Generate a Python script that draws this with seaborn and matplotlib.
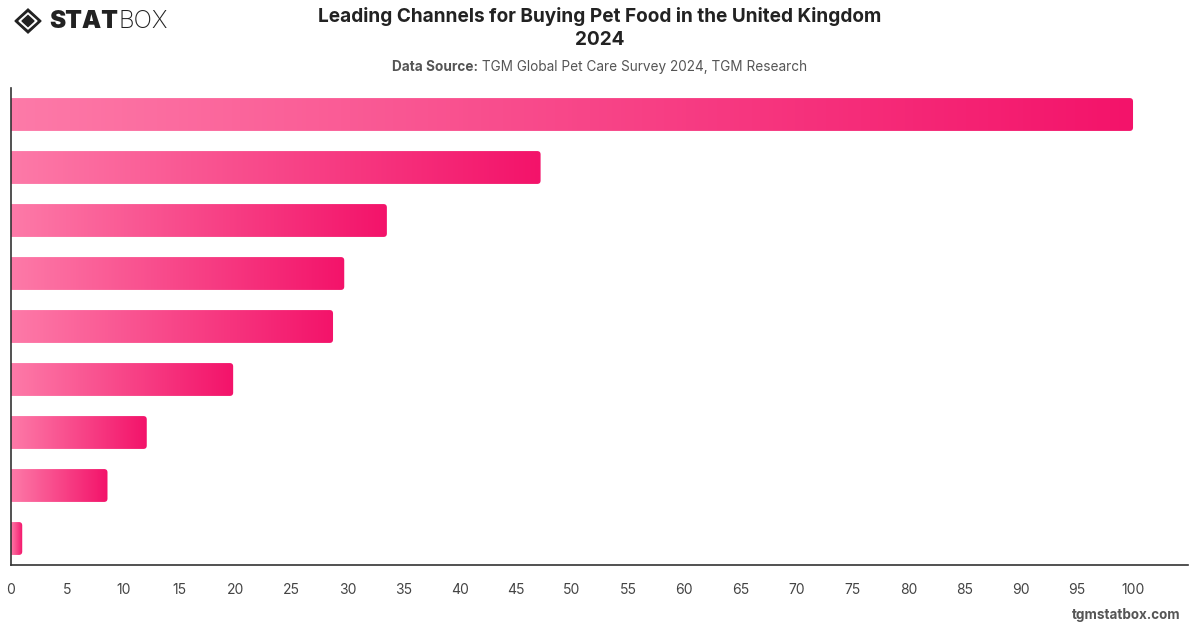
import numpy as np
import pandas as pd
import matplotlib.pyplot as plt
import seaborn as sns
from matplotlib.colors import LinearSegmentedColormap
from matplotlib.patches import FancyBboxPatch, Polygon

# Data (category names are not shown on the chart)
channels = ["Channel 1", "Channel 2", "Channel 3", "Channel 4", "Channel 5",
            "Channel 6", "Channel 7", "Channel 8", "Channel 9"]
values = [100, 47.2, 33.5, 29.7, 28.7, 19.8, 12.1, 8.6, 1.0]
xticks = list(range(0, 101, 5))

title = "Leading Channels for Buying Pet Food in the United Kingdom"
year = "2024"
source_label = "Data Source:"
source_text = " TGM Global Pet Care Survey 2024, TGM Research"
footer = "tgmstatbox.com"

sns.set_theme(style="white")
plt.rcParams['font.family'] = ['Inter', 'DejaVu Sans']

W, H = 1200, 628
XMAX = 104.9
fig, ax = plt.subplots(figsize=(W / 100, H / 100), dpi=100)
fig.subplots_adjust(left=11 / W, right=1188 / W, top=1 - 88 / H, bottom=1 - 565 / H)

df = pd.DataFrame({"channel": channels, "value": values})
sns.barplot(data=df, y="channel", x="value", orient="h", width=0.62,
            color="#f5196b", ax=ax)

# gradient fill per bar, rounded right corners
cmap = LinearSegmentedColormap.from_list("pink", ["#fd7aa8", "#f3136a"])
grad = np.linspace(0, 1, 256).reshape(1, -1)
x_px = (1188 - 11) / XMAX
y_px = (565 - 88) / len(channels)
for p in list(ax.patches):
    x0, y0, w, h = p.get_x(), p.get_y(), p.get_width(), p.get_height()
    p.set_visible(False)
    clip = FancyBboxPatch((x0 - 1, y0), w + 1, h,
                          boxstyle="round,pad=0,rounding_size=0.3",
                          mutation_aspect=x_px / y_px,
                          transform=ax.transData, facecolor="none", edgecolor="none")
    ax.add_patch(clip)
    im = ax.imshow(grad, extent=[x0, x0 + w, y0 + h, y0], aspect="auto",
                   cmap=cmap, interpolation="bicubic", zorder=2)
    im.set_clip_path(clip)

ax.set_xlim(0, XMAX)
ax.set_ylim(len(channels) - 0.5, -0.5)
ax.set_xticks(xticks)
ax.set_xticklabels([str(t) for t in xticks])
ax.set_yticks([])
ax.set_xlabel("")
ax.set_ylabel("")
ax.tick_params(axis="x", length=0, pad=13, labelsize=10, labelcolor="#444444")
for s in ["top", "right"]:
    ax.spines[s].set_visible(False)
for s in ["left", "bottom"]:
    ax.spines[s].set_color("#333333")
    ax.spines[s].set_linewidth(1.2)

# overlay in pixel coordinates for header / footer
ov = fig.add_axes([0, 0, 1, 1], zorder=-1)
ov.set_xlim(0, W)
ov.set_ylim(H, 0)
ov.axis("off")

ov.text(600, 17, title, ha="center", va="center", fontsize=13.7, weight="bold", color="#222222")
ov.text(600, 40, year, ha="center", va="center", fontsize=13.7, weight="bold", color="#222222")

# subtitle: bold label + normal text, centered together
renderer = fig.canvas.get_renderer()
t1 = ov.text(0, 67, source_label, ha="left", va="center", fontsize=9.8, weight="bold", color="#555555")
t2 = ov.text(0, 67, source_text, ha="left", va="center", fontsize=9.8, color="#555555")
w1 = t1.get_window_extent(renderer).width
w2 = t2.get_window_extent(renderer).width
start = 600 - (w1 + w2) / 2
t1.set_x(start)
t2.set_x(start + w1)

# logo
cx, cy = 28, 21
ov.add_patch(Polygon([[cx - 13, cy], [cx, cy - 12], [cx + 13, cy], [cx, cy + 12]], closed=True, color="#222222"))
ov.add_patch(Polygon([[cx - 9, cy], [cx, cy - 8], [cx + 9, cy], [cx, cy + 8]], closed=True, color="white"))
ov.add_patch(Polygon([[cx - 6, cy], [cx, cy - 5.5], [cx + 6, cy], [cx, cy + 5.5]], closed=True, color="#222222"))
s1 = ov.text(49, 22, "STAT", ha="left", va="center", fontsize=17.5, weight="black", color="#222222")
ws = s1.get_window_extent(renderer).width
ov.text(49 + ws + 1, 22, "BOX", ha="left", va="center", fontsize=17.5, weight="light", color="#222222")

ov.text(1180, 615, footer, ha="right", va="center", fontsize=9.7, weight="bold", color="#555555")

fig.savefig("out.png", dpi=100)
